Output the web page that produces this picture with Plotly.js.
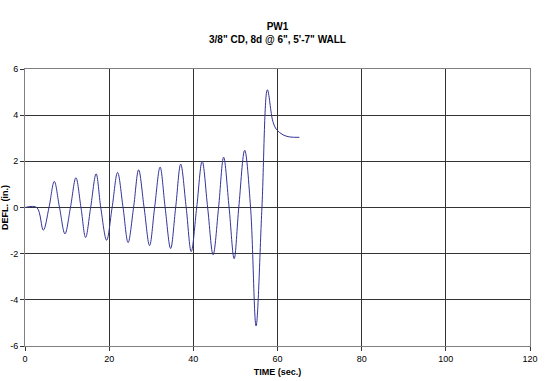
<!DOCTYPE html>
<html>
<head>
<meta charset="utf-8">
<script src="https://cdn.plot.ly/plotly-3.0.1.min.js"></script>
<style>html,body{margin:0;padding:0;background:#fff}#chart{width:555px;height:381px}</style>
</head>
<body>
<div id="chart"></div>
<script>
const timeSec = [0, 2.8, 4.35, 5.7, 6.96, 8.2, 9.5, 10.8, 12.1, 13.3, 14.4, 15.6, 16.9, 18.0, 19.4, 20.7, 22.0, 23.3, 24.5, 25.8, 27.0, 28.3, 29.6, 30.8, 32.1, 33.3, 34.6, 35.8, 37.0, 38.3, 39.5, 40.8, 42.1, 43.4, 44.7, 46.0, 47.2, 48.5, 49.7, 50.8, 52.2, 53.6, 54.9, 56.3, 57.6, 58.9, 59.8, 61.3, 62.8, 65.2];
const deflIn = [0, 0, -0.98, 0, 1.13, 0, -1.14, 0, 1.29, 0, -1.30, 0, 1.46, 0, -1.42, 0, 1.52, 0, -1.52, 0, 1.63, 0, -1.65, 0, 1.75, 0, -1.78, 0, 1.88, 0, -1.91, 0, 2.01, 0, -2.05, 0, 2.18, 0, -2.22, 0, 2.48, 0, -5.13, 0, 5.10, 3.73, 3.37, 3.15, 3.06, 3.04];
const xTicks = [0, 20, 40, 60, 80, 100, 120];
const yTicks = [-6, -4, -2, 0, 2, 4, 6];

const trace = {
  x: timeSec, y: deflIn, type: 'scatter', mode: 'lines',
  line: {color: '#333399', width: 1, shape: 'spline', smoothing: 1},
  hoverinfo: 'skip'
};
const font = {family: 'Liberation Sans, Arial, sans-serif', color: '#000'};
const layout = {
  width: 555, height: 381,
  margin: {l: 25, r: 25, t: 69, b: 35},
  paper_bgcolor: '#fff', plot_bgcolor: '#fff',
  showlegend: false,
  font: Object.assign({size: 9}, font),
  title: {text: '<b>PW1</b><br><b>3/8" CD, 8d @ 6", 5\'-7" WALL</b>', font: Object.assign({size: 10}, font), x: 0.5, xanchor: 'center', y: 0.921, yanchor: 'top'},
  xaxis: {
    range: [0, 120], tickvals: xTicks, ticktext: xTicks.map(String),
    showgrid: true, gridcolor: '#333', gridwidth: 1, zeroline: false,
    showline: true, linecolor: '#808080', linewidth: 1, mirror: true,
    ticks: 'outside', ticklen: 4, tickcolor: '#333',
    tickfont: Object.assign({size: 9}, font),
    title: {text: '<b>TIME (sec.)</b>', font: Object.assign({size: 9}, font), standoff: 5},
    automargin: false, fixedrange: true
  },
  yaxis: {
    range: [-6, 6], tickvals: yTicks, ticktext: yTicks.map(String),
    showgrid: true, gridcolor: '#333', gridwidth: 1, zeroline: false,
    showline: true, linecolor: '#808080', linewidth: 1, mirror: true,
    ticks: 'outside', ticklen: 4, tickcolor: '#333',
    tickfont: Object.assign({size: 9}, font),
    title: {text: '<b>DEFL. (in.)</b>', font: Object.assign({size: 9}, font), standoff: 2},
    automargin: false, fixedrange: true
  }
};
Plotly.newPlot('chart', [trace], layout, {staticPlot: true, displayModeBar: false});
</script>
</body>
</html>
